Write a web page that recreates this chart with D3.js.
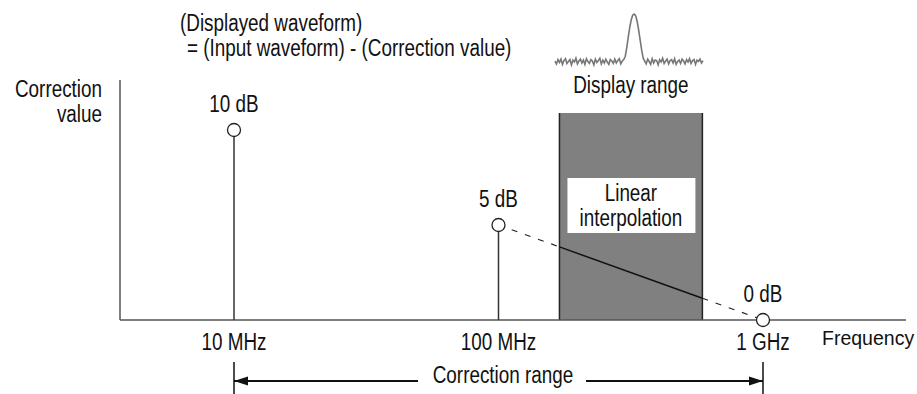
<!DOCTYPE html>
<html>
<head>
<meta charset="utf-8">
<script src="https://cdn.jsdelivr.net/npm/d3@7"></script>
<style>
  html, body { margin: 0; padding: 0; background: #fff; }
  svg text { font-family: "Liberation Sans", Arial, sans-serif; font-size: 23px; fill: #111; }
</style>
</head>
<body>
<svg id="chart" width="917" height="394"></svg>
<script>
// ---- data ----
const freqs = [1e7, 1e8, 1e9];
const freqLabels = ["10 MHz", "100 MHz", "1 GHz"];
const corrValues = [10, 5, 0];
const corrLabels = ["10 dB", "5 dB", "0 dB"];
const displayRange = [1.7e8, 5.9e8];
const correctionRange = [1e7, 1e9];
const waveValues = [
  0.02,-0.04,0.05,-0.01,0.06,-0.05,0.03,0.07,-0.03,0.01,
  0.05,-0.06,0.04,0.00,0.08,-0.04,0.02,0.06,-0.02,0.04,
  -0.05,0.07,0.01,-0.03,0.05,0.02,-0.06,0.06,-0.01,0.03,
  0.08,-0.04,0.04,-0.02,0.06,0.00,-0.05,0.05,0.02,-0.03,
  0.06,-0.02,0.03,0.07,-0.04,0.02,0.05,0.12,0.30,0.52,
  0.72,0.88,0.98,1.00,0.96,0.84,0.66,0.45,0.24,0.08,
  0.02,-0.04,0.06,0.01,-0.05,0.07,-0.02,0.04,0.03,-0.06,
  0.05,0.00,0.08,-0.03,0.02,0.06,-0.04,0.03,0.05,-0.02,
  0.07,-0.05,0.01,0.04,-0.03,0.06,0.02,-0.04,0.05,0.00,
  0.07,-0.03,0.03,0.05,-0.05,0.04,0.01,0.06,-0.02,0.03
];
const titleLines = ["(Displayed waveform)", "= (Input waveform) - (Correction value)"];
const yLabelLines = ["Correction", "value"];
const boxLabelLines = ["Linear", "interpolation"];

// ---- chart ----
const svg = d3.select("#chart");
const x = d3.scaleLog().domain([1e7, 1e9]).range([234, 763]);
const y = d3.scaleLinear().domain([0, 10]).range([320, 130]);
const axisColor = "#555";

// display range box
const boxTop = 113;
svg.append("rect")
  .attr("x", x(displayRange[0])).attr("y", boxTop)
  .attr("width", x(displayRange[1]) - x(displayRange[0]))
  .attr("height", y(0) - boxTop)
  .attr("fill", "#808080");
svg.selectAll("line.boxedge").data(displayRange).join("line")
  .attr("x1", d => x(d)).attr("x2", d => x(d))
  .attr("y1", boxTop).attr("y2", y(0))
  .attr("stroke", "#222").attr("stroke-width", 1.5);

const cx = (x(displayRange[0]) + x(displayRange[1])) / 2;
svg.append("rect")
  .attr("x", x(displayRange[0]) + 8).attr("y", 178)
  .attr("width", x(displayRange[1]) - x(displayRange[0]) - 15)
  .attr("height", 55).attr("fill", "#fff");
svg.selectAll("text.boxlab").data(boxLabelLines).join("text")
  .attr("x", cx).attr("y", (d, i) => 201 + i * 25).attr("text-anchor", "middle").text(d => d);

// axes
svg.append("line").attr("x1", 120).attr("x2", 120).attr("y1", 80).attr("y2", y(0))
  .attr("stroke", axisColor).attr("stroke-width", 1.5);
svg.append("line").attr("x1", 120).attr("x2", 906).attr("y1", y(0)).attr("y2", y(0))
  .attr("stroke", axisColor).attr("stroke-width", 1.5);

// interpolation line between 5 dB and 0 dB
const p1 = [x(freqs[1]), y(corrValues[1])];
const p2 = [x(freqs[2]), y(corrValues[2])];
const interp = xv => p1[1] + (xv - p1[0]) * (p2[1] - p1[1]) / (p2[0] - p1[0]);
const xa = x(displayRange[0]), xb = x(displayRange[1]);
svg.append("line").attr("x1", p1[0]).attr("y1", p1[1]).attr("x2", xa).attr("y2", interp(xa))
  .attr("stroke", "#222").attr("stroke-width", 1.2).attr("stroke-dasharray", "6,8");
svg.append("line").attr("x1", xa).attr("y1", interp(xa)).attr("x2", xb).attr("y2", interp(xb))
  .attr("stroke", "#111").attr("stroke-width", 1.5);
svg.append("line").attr("x1", xb).attr("y1", interp(xb)).attr("x2", p2[0]).attr("y2", p2[1])
  .attr("stroke", "#222").attr("stroke-width", 1.2).attr("stroke-dasharray", "6,8");

// stems + circles
const pts = freqs.map((f, i) => ({ f, v: corrValues[i], label: corrLabels[i], tick: freqLabels[i] }));
svg.selectAll("line.stem").data(pts.filter(d => d.v > 0)).join("line")
  .attr("x1", d => x(d.f)).attr("x2", d => x(d.f))
  .attr("y1", d => y(d.v) + 6.5).attr("y2", y(0))
  .attr("stroke", "#333").attr("stroke-width", 1.5);
svg.selectAll("circle.pt").data(pts).join("circle")
  .attr("cx", d => x(d.f)).attr("cy", d => y(d.v)).attr("r", 6.5)
  .attr("fill", "#fff").attr("stroke", "#222").attr("stroke-width", 1.3);
svg.selectAll("text.val").data(pts).join("text")
  .attr("x", d => x(d.f)).attr("y", d => y(d.v) - 18)
  .attr("text-anchor", "middle").text(d => d.label);
svg.selectAll("text.tick").data(pts).join("text")
  .attr("x", d => x(d.f)).attr("y", 350)
  .attr("text-anchor", "middle").text(d => d.tick);

// y label
svg.selectAll("text.ylab").data(yLabelLines).join("text")
  .attr("x", 102).attr("y", (d, i) => 97 + i * 25)
  .attr("text-anchor", "end").text(d => d);

// title
svg.selectAll("text.title").data(titleLines).join("text")
  .attr("x", (d, i) => i === 0 ? 180 : 187).attr("y", (d, i) => 31 + i * 25)
  .text(d => d);

// display range waveform
const wx = d3.scaleLinear().domain([0, waveValues.length - 1]).range([555, 703]);
const wy = d3.scaleLinear().domain([0, 1]).range([62, 14]);
svg.append("path").datum(waveValues)
  .attr("d", d3.line().x((d, i) => wx(i)).y(d => wy(d)))
  .attr("fill", "none").attr("stroke", "#777").attr("stroke-width", 1.6);
svg.append("text").attr("x", cx).attr("y", 93).attr("text-anchor", "middle").text("Display range");

// correction range arrow
const ay = 381;
svg.selectAll("line.rtick").data(correctionRange).join("line")
  .attr("x1", d => x(d)).attr("x2", d => x(d)).attr("y1", 362).attr("y2", 394)
  .attr("stroke", "#111").attr("stroke-width", 1.5);
svg.append("text").attr("x", 503).attr("y", 383).attr("text-anchor", "middle").text("Correction range");
svg.append("line").attr("x1", x(correctionRange[0])).attr("x2", 418).attr("y1", ay).attr("y2", ay)
  .attr("stroke", "#111").attr("stroke-width", 1.8);
svg.append("line").attr("x1", 586).attr("x2", x(correctionRange[1])).attr("y1", ay).attr("y2", ay)
  .attr("stroke", "#111").attr("stroke-width", 1.8);
const a0 = x(correctionRange[0]), a1 = x(correctionRange[1]);
svg.append("path").attr("d", `M${a0},${ay} L${a0 + 14},${ay - 4.5} L${a0 + 14},${ay + 4.5} Z`).attr("fill", "#111");
svg.append("path").attr("d", `M${a1},${ay} L${a1 - 14},${ay - 4.5} L${a1 - 14},${ay + 4.5} Z`).attr("fill", "#111");

// condense all text horizontally (narrow typeface look)
svg.selectAll("text").each(function () {
  const w = this.getComputedTextLength();
  d3.select(this).attr("textLength", w * 0.82).attr("lengthAdjust", "spacingAndGlyphs");
});

// axis title (sized directly so it stays inside the frame)
svg.append("text").attr("x", 822).attr("y", 345)
  .style("font-size", "19.5px").text("Frequency");
</script>
</body>
</html>
